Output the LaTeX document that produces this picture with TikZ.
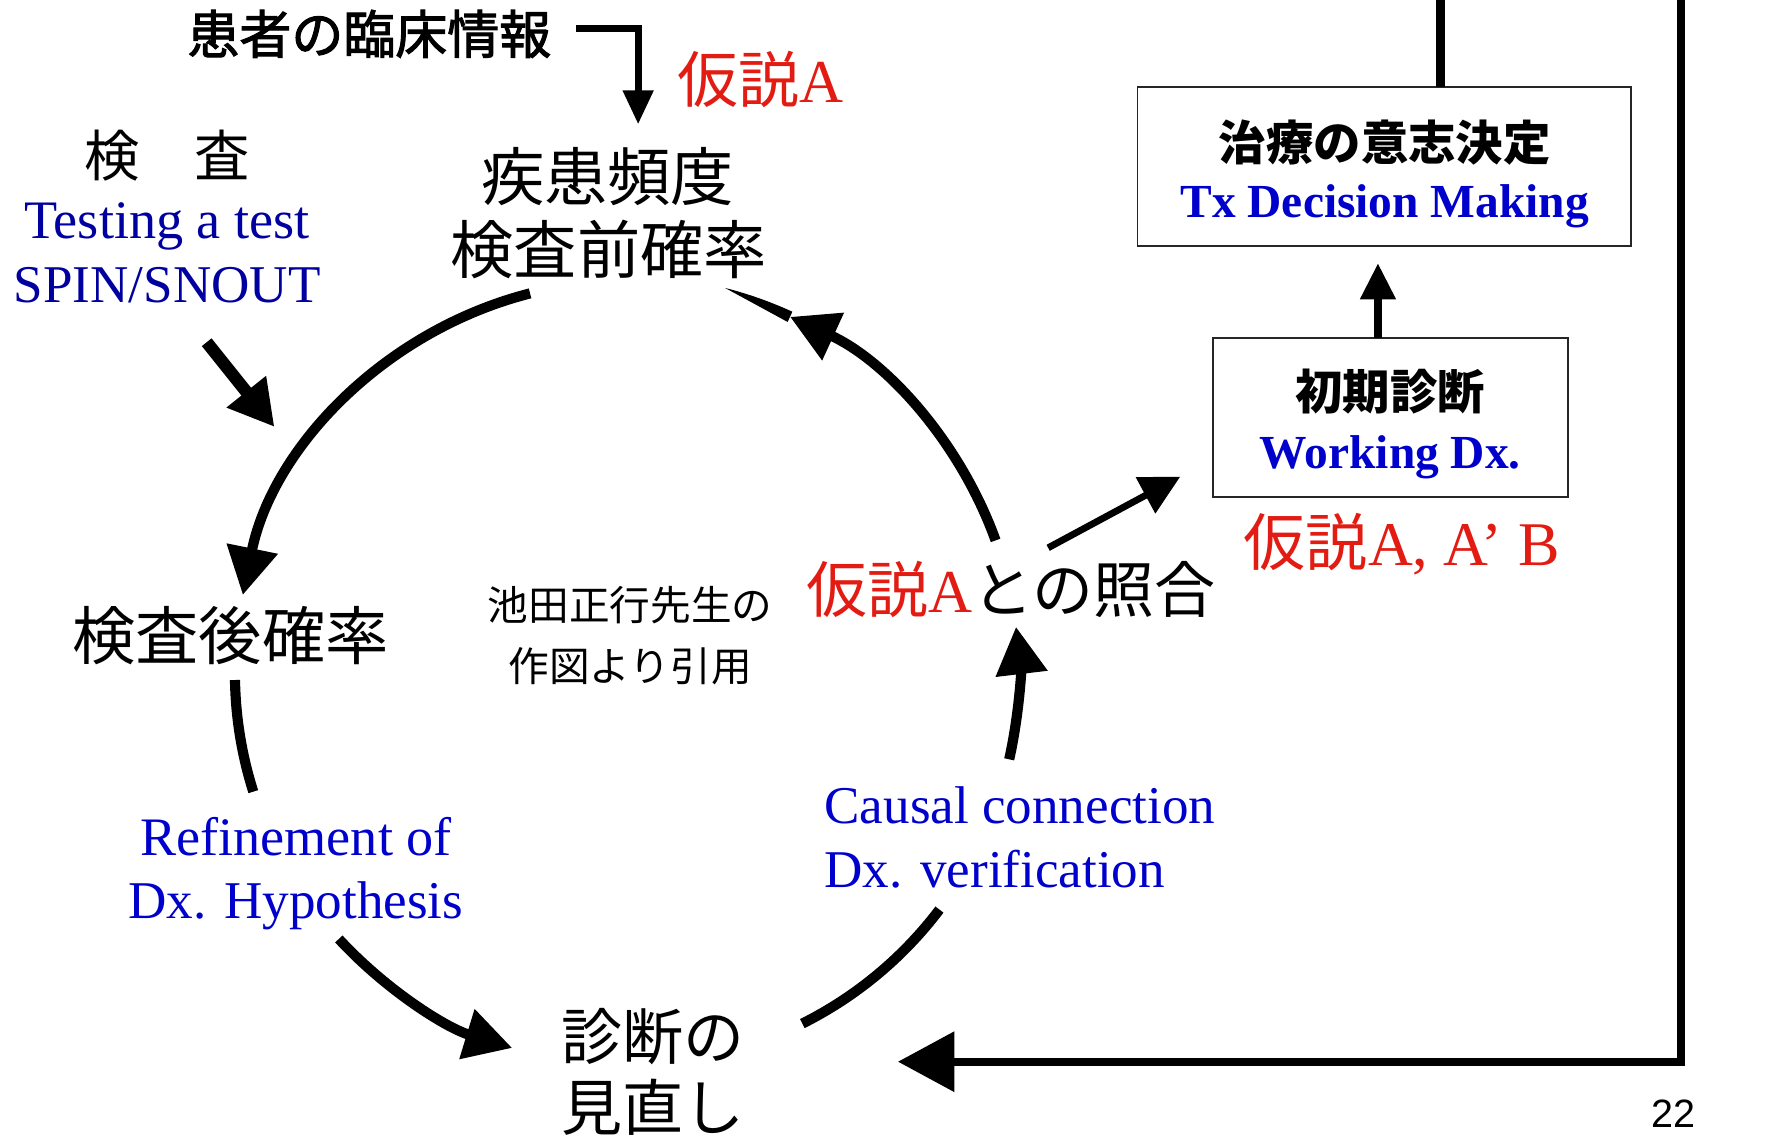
\documentclass[tikz,border=0pt]{standalone}
\usepackage{fontspec}
\setmainfont{Liberation Serif}
\newfontfamily\cjk{Noto Sans CJK JP}
\newfontfamily\cjkh[FakeBold=2]{Noto Sans CJK JP}
\newfontfamily\sanslat{Liberation Sans}
\usetikzlibrary{arrows.meta}
\definecolor{hred}{RGB}{226,28,18}
\definecolor{navyb}{RGB}{0,0,160}
\definecolor{blueb}{RGB}{0,0,205}
\newcommand{\fsz}[1]{\fontsize{#1}{#1}\selectfont}
\newcommand{\lat}[1]{{\rmfamily #1}}
\begin{document}
\begin{tikzpicture}[x=1pt,y=-1pt,
  every node/.style={inner sep=0pt, outer sep=0pt},
  jp/.style={font={\cjk\fsz{#1}}},
  jpb/.style={font={\cjk\bfseries\fsz{#1}}},
  en/.style={font={\fsz{#1}}, anchor=base},
  enb/.style={font={\bfseries\fsz{#1}}, anchor=base},
  cyc/.style={line width=9pt},
  cyca/.style={line width=9pt, -{Triangle[length=42pt,width=44pt]}},
  box/.style={draw=black!85, line width=1.5pt}]
\fill[white] (0,0) rectangle (1568,1009);
\useasboundingbox (0,0) rectangle (1568,1009);

% cycle
\coordinate (C) at (555,596);
\draw[cyca] ([shift={(-104.3:347)}]C) arc[start angle=-104.3, end angle=-168.5, radius=347];
\draw[cyc] ([shift={(-181:347)}]C) arc[start angle=-181, end angle=-197.6, radius=347];
\draw[cyca] ([shift={(-222.7:347)}]C) arc[start angle=-222.7, end angle=-253, radius=347];
\draw[cyc] ([shift={(-296.6:347)}]C) arc[start angle=-296.6, end angle=-322.9, radius=347];
\draw[cyca] ([shift={(-347.3:347)}]C) arc[start angle=-347.3, end angle=-366.8, radius=347];
\draw[cyca] ([shift={(-19.8:347)}]C) arc[start angle=-19.8, end angle=-65.4, radius=347];
\fill ([shift={(-65.4:352)}]C) arc[start angle=-65.4, end angle=-75.7, radius=352] -- ([shift={(-65.4:342)}]C) -- cycle;

% texts
\node[font={\cjkh\fsz{46}}] (kanja) at (327,30) {患者の臨床情報};
\node[jp=54, text=hred] (kasetsu1) at (673,70) {仮説\lat{A}};
\node[jp=49] (kensa) at (148,138) {検　査};
\node[en=48, text=navyb] (testing) at (148,211) {Testing a test};
\node[en=47, text=navyb] (spin) at (148,268) {SPIN/SNOUT};
\node[jp=56] (shikkan) at (538,156) {疾患頻度};
\node[jp=56] (kensamae) at (539,221) {検査前確率};
\node[jp=56] (kensago) at (204,563) {検査後確率};
\node[jp=36] (ikeda1) at (558,536) {池田正行先生の};
\node[jp=36] (ikeda2) at (558,590) {作図より引用};
\node[jp=54] (shogo) at (895,522) {\textcolor{hred}{仮説\lat{A}}との照合};
\node[jp=55, text=hred] (kasetsu2) at (1241,482) {仮説\lat{A, A’ B}};
\node[jp=54] (minaoshi1) at (578,918) {診断の};
\node[jp=54] (minaoshi2) at (578,980) {見直し};
\node[en=48, text=blueb] (refine1) at (262,757) {Refinement of};
\node[en=47, text=blueb] (refine2) at (262,813) {Dx. Hypothesis};
\node[en=47, text=blueb, anchor=base west] (causal1) at (730,729) {Causal connection};
\node[en=47, text=blueb, anchor=base west] (causal2) at (730,786) {Dx. verification};
\node[anchor=base, font={\sanslat\fsz{35}}] (page) at (1482,998) {22};

% boxes
\node[box, minimum width=437pt, minimum height=141pt] (txbox) at (1225.5,147.5) {};
\node[jpb=42] (tx1) at (1226,126) {治療の意志決定};
\node[enb=42, text=blueb] (tx2) at (1226,193) {Tx Decision Making};
\node[box, minimum width=314pt, minimum height=141pt] (wdbox) at (1231,369.5) {};
\node[jpb=42] (wd1) at (1231,347) {初期診断};
\node[enb=42, text=blueb] (wd2) at (1231,415) {Working Dx.};

% connectors
\coordinate (k1) at (510,25);
\coordinate (k2) at (565,110);
\draw[line width=6pt, -{Triangle[length=30pt,width=26pt]}] (k1) -| (k2);
\coordinate (d1) at (183,303);
\coordinate (d2) at (243,378);
\draw[line width=11pt, -{Triangle[length=40pt,width=42pt]}] (d1) -- (d2);
\coordinate (s1) at (928,485);
\coordinate (s2) at (1045,422);
\draw[line width=6pt, -{Triangle[length=35pt,width=35pt]}] (s1) -- (s2);
\draw[line width=7pt, shorten >=15pt, -{Triangle[length=32pt,width=30pt]}] ([xshift=-11pt]wdbox.north) -- ([xshift=-5.5pt]txbox.south);
\coordinate (top1) at (1275,0);
\draw[line width=8pt] ([xshift=49.5pt]txbox.north) -- (top1);
\coordinate (rtop) at (1488,0);
\coordinate (rtip) at (795,940);
\draw[line width=7pt, -{Triangle[length=50pt,width=52pt]}] (rtop) |- (rtip);
\end{tikzpicture}
\end{document}
